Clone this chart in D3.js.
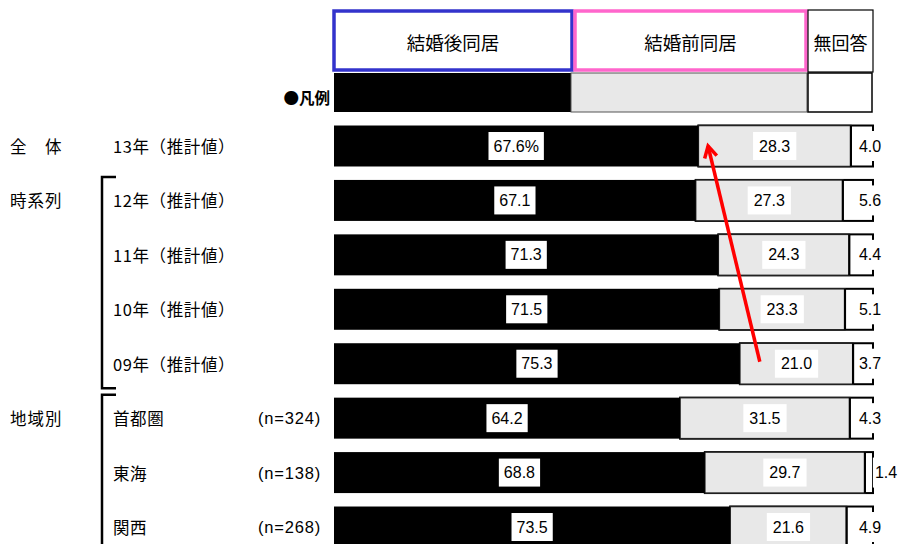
<!DOCTYPE html>
<html><head><meta charset="utf-8">
<script src="https://cdn.jsdelivr.net/npm/d3@7"></script>
<style>
body{margin:0;background:#fff;}
svg text{font-family:"Liberation Sans","Noto Sans CJK JP",sans-serif;}
.jp{font-family:"Noto Sans CJK JP","Liberation Sans",sans-serif;}
</style></head>
<body><svg id="c" width="899" height="544"></svg>
<script>
const categories = ["13年（推計値）","12年（推計値）","11年（推計値）","10年（推計値）","09年（推計値）","首都圏","東海","関西"];
const nLabels = ["","","","","","(n=324)","(n=138)","(n=268)"];
const afterMarriage = [67.6,67.1,71.3,71.5,75.3,64.2,68.8,73.5];
const beforeMarriage = [28.3,27.3,24.3,23.3,21.0,31.5,29.7,21.6];
const noAnswer = [4.0,5.6,4.4,5.1,3.7,4.3,1.4,4.9];
const seriesNames = ["結婚後同居","結婚前同居","無回答"];
const groups = [{label:"全　体",row:0},{label:"時系列",row:1},{label:"地域別",row:5}];
const brackets = [[1,4],[5,7]];
const arrow = {from:{pct:79.0,row:4,dy:-2},to:{pct:69.4,row:0,dy:0}};

const svg = d3.select("#c");
const x = d3.scaleLinear().domain([0,100]).range([334,873]);
const step = 54.43;
const y = d3.scaleBand().domain(d3.range(categories.length))
  .range([146-step/2, 146-step/2+step*categories.length]).paddingInner(0.247).paddingOuter(0.1235);
const bw = y.bandwidth();
const cy = i => y(i)+bw/2;

// header boxes
const hdr = [
  {x0:334,x1:572,stroke:"#3333cc",sw:3.5},
  {x0:575,x1:806,stroke:"#ff66cc",sw:3.5},
  {x0:808,x1:873,stroke:"#000",sw:1.2}
];
hdr.forEach((h,i)=>{
  svg.append("rect").attr("x",h.x0).attr("y",i<2?11:10).attr("width",h.x1-h.x0).attr("height",i<2?59:62)
    .attr("fill","#fff").attr("stroke",h.stroke).attr("stroke-width",h.sw);
  svg.append("text").attr("class","jp").attr("x",(h.x0+h.x1)/2).attr("y",42).attr("text-anchor","middle")
    .attr("dominant-baseline","central").attr("font-size",i<2?18.5:18).text(seriesNames[i]);
});
// legend row
svg.append("rect").attr("x",334).attr("y",73).attr("width",237).attr("height",39).attr("fill","#000");
svg.append("rect").attr("x",571).attr("y",73).attr("width",236).attr("height",39).attr("fill","#e8e8e8").attr("stroke","#555").attr("stroke-width",1);
svg.append("rect").attr("x",808).attr("y",73).attr("width",64).attr("height",39).attr("fill","#fff").attr("stroke","#000").attr("stroke-width",1.5);
svg.append("text").attr("class","jp").attr("x",330).attr("y",97).attr("text-anchor","end").attr("dominant-baseline","central")
  .attr("font-size",15.5).attr("font-weight","bold").text("●凡例");

// bars
const rows = svg.selectAll("g.row").data(categories.map((c,i)=>({c,i,a:afterMarriage[i],b:beforeMarriage[i],n:noAnswer[i]})))
  .join("g").attr("class","row");
rows.append("rect").attr("x",d=>x(d.a)).attr("y",d=>y(d.i)).attr("width",d=>x(100)-x(d.a)).attr("height",bw)
  .attr("fill","#fff").attr("stroke","#000").attr("stroke-width",2);
rows.append("rect").attr("x",d=>x(d.a)).attr("y",d=>y(d.i)).attr("width",d=>x(d.a+d.b)-x(d.a)).attr("height",bw)
  .attr("fill","#e8e8e8").attr("stroke","#222").attr("stroke-width",1.5);
rows.append("line").attr("x1",d=>x(d.a+d.b)).attr("x2",d=>x(d.a+d.b)).attr("y1",d=>y(d.i)).attr("y2",d=>y(d.i)+bw)
  .attr("stroke","#000").attr("stroke-width",2.2);
rows.append("rect").attr("x",x(0)).attr("y",d=>y(d.i)).attr("width",d=>x(d.a)-x(0)).attr("height",bw).attr("fill","#000");

function label(g, cx, cyv, txt, pad){
  const t = g.append("text").attr("x",cx).attr("y",cyv).attr("text-anchor","middle").attr("dominant-baseline","central")
    .attr("font-size",16).attr("fill","#000").text(txt);
  const bb = t.node().getBBox();
  g.insert("rect","text:last-child").attr("x",bb.x-pad).attr("y",cyv-14).attr("width",bb.width+2*pad).attr("height",28).attr("fill","#fff");
}
rows.each(function(d){
  const g = d3.select(this);
  const lg1 = g.append("g"); label(lg1,(x(0)+x(d.a))/2,cy(d.i),d.i===0?d.a.toFixed(1)+"%":d.a.toFixed(1),5);
  const lg2 = g.append("g"); label(lg2,(x(d.a)+x(d.a+d.b))/2,cy(d.i),d.b.toFixed(1),6);
  const lg3 = g.append("g"); 
  const t = lg3.append("text").attr("x",d.n<2?x(100)+13:x(100)-3).attr("y",cy(d.i)).attr("text-anchor","middle")
    .attr("dominant-baseline","central").attr("font-size",16).text(d.n.toFixed(1));
  const bb=t.node().getBBox();
  lg3.insert("rect","text").attr("x",bb.x-2).attr("y",cy(d.i)-15).attr("width",bb.width+4).attr("height",30).attr("fill","#fff");
});

// left labels
svg.selectAll("text.cat").data(categories).join("text").attr("class","cat jp")
  .attr("x",113).attr("y",(d,i)=>cy(i)).attr("dominant-baseline","central").attr("font-size",16.5).attr("letter-spacing",0.6).text(d=>d);
svg.selectAll("text.nl").data(nLabels).join("text").attr("class","nl")
  .attr("x",258).attr("y",(d,i)=>cy(i)).attr("dominant-baseline","central").attr("font-size",16.5).attr("letter-spacing",0.8).text(d=>d);
svg.selectAll("text.grp").data(groups).join("text").attr("class","grp jp")
  .attr("x",10).attr("y",d=>cy(d.row)).attr("dominant-baseline","central").attr("font-size",16.5).attr("letter-spacing",1).text(d=>d.label);
brackets.forEach(([r0,r1])=>{
  const top = y(r0)-3, last = r1===categories.length-1;
  const bot = last ? 600 : y(r1)+bw+4;
  svg.append("path").attr("d",`M116,${top}H102V${bot}`+(last?``:`H116`))
    .attr("fill","none").attr("stroke","#000").attr("stroke-width",2.5);
});

// arrow
const ax0=x(arrow.from.pct), ay0=cy(arrow.from.row)+arrow.from.dy, ax1=x(arrow.to.pct), ay1=cy(arrow.to.row)+arrow.to.dy;
svg.append("line").attr("x1",ax0).attr("y1",ay0).attr("x2",ax1).attr("y2",ay1).attr("stroke","#ff0000").attr("stroke-width",3.5);
const ang=Math.atan2(ay0-ay1,ax0-ax1), hl=13, ha=0.5;
svg.append("path").attr("d",`M${ax1+hl*Math.cos(ang-ha)},${ay1+hl*Math.sin(ang-ha)}L${ax1},${ay1}L${ax1+hl*Math.cos(ang+ha)},${ay1+hl*Math.sin(ang+ha)}`)
  .attr("fill","none").attr("stroke","#ff0000").attr("stroke-width",3.5).attr("stroke-linejoin","miter");
</script></body></html>
